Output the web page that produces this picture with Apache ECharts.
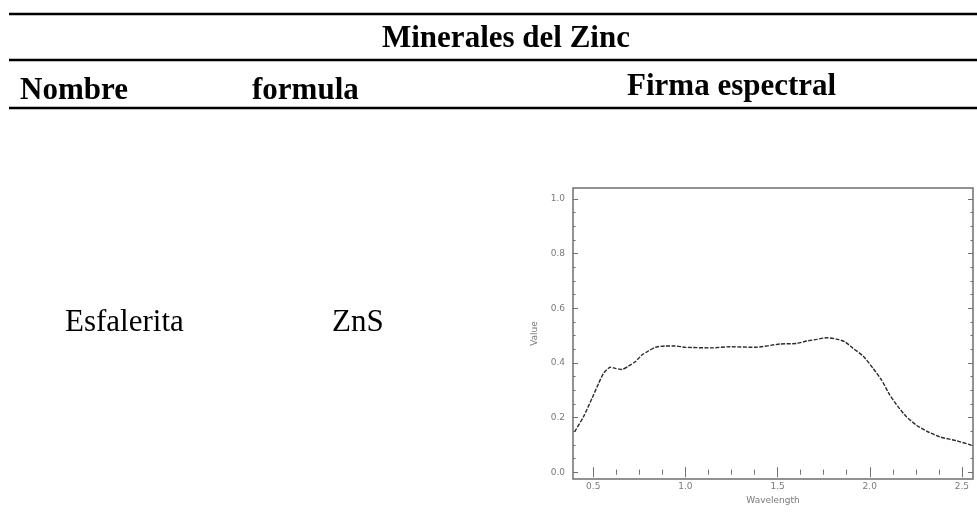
<!DOCTYPE html>
<html>
<head>
<meta charset="utf-8">
<script src="https://cdn.jsdelivr.net/npm/echarts@6/dist/echarts.min.js"></script>
<style>
html,body{margin:0;padding:0;background:#fff;}
#chart{width:977px;height:526px;}
</style>
</head>
<body>
<div id="chart"></div>
<script>
// ---- data ----
const tableTitle = 'Minerales del Zinc';
const headers = ['Nombre', 'formula', 'Firma espectral'];
const mineralName = 'Esfalerita';
const mineralFormula = 'ZnS';

const wavelength = [0.399,0.447,0.493,0.529,0.556,0.592,0.619,0.655,0.691,0.728,0.764,0.800,0.836,0.890,0.944,0.998,1.143,1.242,1.378,1.513,1.603,1.658,1.712,1.766,1.820,1.865,1.910,1.964,2.018,2.064,2.109,2.154,2.199,2.253,2.308,2.380,2.470,2.551];
const reflectance = [0.148,0.203,0.270,0.325,0.362,0.384,0.380,0.376,0.388,0.404,0.429,0.444,0.457,0.462,0.462,0.457,0.455,0.459,0.457,0.469,0.471,0.480,0.486,0.492,0.487,0.477,0.453,0.425,0.380,0.337,0.282,0.239,0.203,0.172,0.150,0.129,0.115,0.099];

const xMajorTicks = [0.5, 1.0, 1.5, 2.0, 2.5];
const xMinorTicks = [0.625, 0.75, 0.875, 1.125, 1.25, 1.375, 1.625, 1.75, 1.875, 2.125, 2.25, 2.375];
const yMajorTicks = [0.0, 0.2, 0.4, 0.6, 0.8, 1.0];
const yMinorTicks = [0.05,0.1,0.15,0.25,0.3,0.35,0.45,0.5,0.55,0.65,0.7,0.75,0.85,0.9,0.95];
const xName = 'Wavelength';
const yName = 'Value';

// ---- chart ----
const chart = echarts.init(document.getElementById('chart'));
const axisColor = '#6f6f6f';
const labelColor = '#7a7a7a';
const serif = '"Liberation Serif", "Times New Roman", serif';
const xMin = 0.39, xMax = 2.56, yMin = -0.025, yMax = 1.04;

function xAx(pos, ticks, len, withLabel) {
  return {
    type: 'value', position: pos, min: xMin, max: xMax,
    axisLine: { show: false },
    splitLine: { show: false },
    axisTick: { show: true, inside: true, length: len, customValues: ticks, lineStyle: { color: axisColor, width: 1 } },
    axisLabel: withLabel ? { show: true, customValues: ticks, margin: 3, color: labelColor, fontSize: 9, fontFamily: 'DejaVu Sans', formatter: v => v.toFixed(1) } : { show: false },
    name: withLabel ? xName : '', nameLocation: 'middle', nameGap: 17,
    nameTextStyle: { color: labelColor, fontSize: 9, fontFamily: 'DejaVu Sans' }
  };
}
function yAx(pos, ticks, len, withLabel) {
  return {
    type: 'value', position: pos, min: yMin, max: yMax,
    axisLine: { show: false },
    splitLine: { show: false },
    axisTick: { show: true, inside: true, length: len, customValues: ticks, lineStyle: { color: axisColor, width: 1 } },
    axisLabel: withLabel ? { show: true, customValues: ticks, margin: 8, color: labelColor, fontSize: 9, fontFamily: 'DejaVu Sans', formatter: v => v.toFixed(1) } : { show: false },
    name: withLabel ? yName : '', nameLocation: 'middle', nameGap: 34, nameRotate: 90,
    nameTextStyle: { color: labelColor, fontSize: 9, fontFamily: 'DejaVu Sans' }
  };
}

const lineY = [14, 60, 108];
const graphics = lineY.map(y => ({
  type: 'line', shape: { x1: 9, y1: y, x2: 977, y2: y },
  style: { stroke: '#000', lineWidth: 2.6 }, silent: true
}));
function txt(str, x, y, size, bold) {
  return { type: 'text', x: x, y: y, style: { text: str, fill: '#000', font: (bold ? 'bold ' : '') + size + 'px ' + serif, textAlign: 'left', textVerticalAlign: 'middle' } };
}
graphics.push(txt(tableTitle, 382, 39, 31, true));
graphics.push(txt(headers[0], 20, 91, 31, true));
graphics.push(txt(headers[1], 252, 91, 31, true));
graphics.push(txt(headers[2], 627, 87, 31, true));
graphics.push(txt(mineralName, 65, 323, 31, false));
graphics.push(txt(mineralFormula, 332, 323, 31, false));

chart.setOption({
  animation: false,
  backgroundColor: '#fff',
  grid: { left: 573, right: 4, top: 188, bottom: 47, show: true, borderColor: axisColor, borderWidth: 1.5, backgroundColor: 'transparent' },
  xAxis: [
    xAx('bottom', xMajorTicks, 5, true),
    xAx('bottom', xMinorTicks, 2.5, false),
    xAx('top', xMajorTicks, 5, false),
    xAx('top', xMinorTicks, 2.5, false)
  ],
  yAxis: [
    yAx('left', yMajorTicks, 5, true),
    yAx('left', yMinorTicks, 2.5, false),
    yAx('right', yMajorTicks, 5, false),
    yAx('right', yMinorTicks, 2.5, false)
  ],
  series: [{
    type: 'line',
    data: wavelength.map((w, i) => [w, reflectance[i]]),
    showSymbol: false,
    smooth: 0.2,
    lineStyle: { color: '#2a2a2a', width: 1.4, type: [4, 1.5] }
  }],
  graphic: graphics
});
</script>
</body>
</html>
